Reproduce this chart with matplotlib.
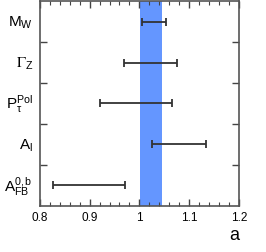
import numpy as np
import matplotlib
matplotlib.use("Agg")
import matplotlib.pyplot as plt
from matplotlib.ticker import MultipleLocator

# row labels, top to bottom
labels = [r"$\mathregular{M_W}$", r"$\Gamma_\mathregular{Z}$",
          r"$\mathregular{P_\tau^{Pol}}$", r"$\mathregular{A_l}$",
          r"$\mathregular{A_{FB}^{0,b}}$"]
lo = [1.006, 0.969, 0.921, 1.025, 0.826]
hi = [1.054, 1.075, 1.066, 1.134, 0.971]
band = [1.002, 1.046]

plt.rcParams['font.family'] = ['Liberation Sans', 'DejaVu Sans']
plt.rcParams['mathtext.fontset'] = 'custom'
plt.rcParams['mathtext.rm'] = 'Liberation Sans'
plt.rcParams['mathtext.it'] = 'Liberation Sans'

fig = plt.figure(figsize=(2.66, 2.53), dpi=100)
ax = fig.add_axes([0.150, 0.182, 0.748, 0.810])

ax.axvspan(band[0], band[1], color='#6496ff', lw=0, zorder=1)

n = len(labels)
ys = np.arange(n)[::-1] + 0.5
lo = np.array(lo)
hi = np.array(hi)
mid = (lo + hi) / 2
ax.errorbar(mid, ys, xerr=(hi - lo) / 2, fmt='none', ecolor='#333333',
            elinewidth=1.3, capsize=2.8, capthick=1.3, zorder=3)

for y, lab in zip(ys, labels):
    t = ax.text(-0.035, y / n, lab, transform=ax.transAxes, ha='right',
                va='center', fontsize=11)
    if 'Gamma' in lab:
        t.set_math_fontfamily('stix')

ax.set_xlim(0.8, 1.2)
ax.set_ylim(0, n)
ax.xaxis.set_minor_locator(MultipleLocator(0.02))
ax.set_xticks([0.8, 0.9, 1.0, 1.1, 1.2])
ax.set_xticklabels(['0.8', '0.9', '1', '1.1', '1.2'])
ax.set_yticks([1, 2, 3, 4])
ax.set_yticklabels([])
ax.tick_params(which='both', direction='in', top=True, right=True,
               colors='#444444', labelcolor='black', labelsize=8.5)
ax.tick_params(which='major', length=5, width=1)
ax.tick_params(which='minor', length=3, width=0.8)
ax.tick_params(axis='y', which='minor', left=False, right=False)
for s in ax.spines.values():
    s.set_color('#555555')
    s.set_linewidth(1.2)

ax.set_xlabel('a', fontsize=13, loc='right', labelpad=2)

fig.savefig('out.png', dpi=100)
